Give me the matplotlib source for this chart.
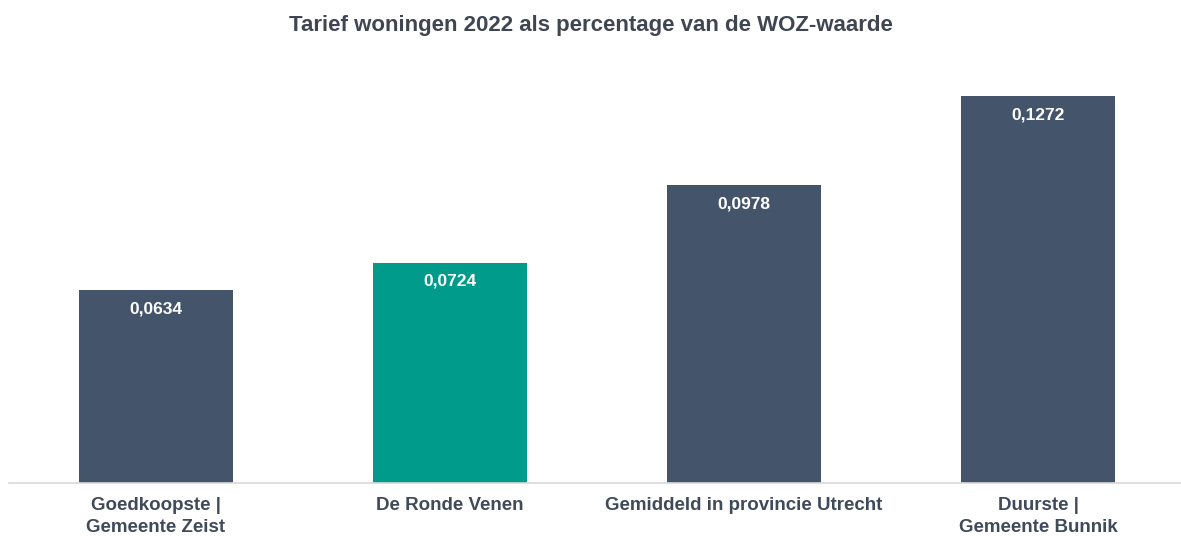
import numpy as np
import matplotlib.pyplot as plt

plt.rcParams['font.family'] = ['Liberation Sans', 'DejaVu Sans']

categories = ['Goedkoopste |\nGemeente Zeist', 'De Ronde Venen',
              'Gemiddeld in provincie Utrecht', 'Duurste |\nGemeente Bunnik']
values = [0.0634, 0.0724, 0.0978, 0.1272]
labels = ['0,0634', '0,0724', '0,0978', '0,1272']
colors = ['#44546A', '#009B8A', '#44546A', '#44546A']

fig = plt.figure(figsize=(11.81, 5.36), dpi=100)
ax = fig.add_axes([9/1181, 53/536, 1172/1181, 430/536])

x = np.arange(len(categories))
bars = ax.bar(x, values, width=0.524, color=colors)

for b, lab in zip(bars, labels):
    ax.text(b.get_x() + b.get_width()/2, b.get_height() - 0.0036, lab,
            ha='center', va='top', color='white', fontsize=12.5, fontweight='bold')

ax.set_xlim(-0.5, -0.5 + 1172/294)
ax.set_ylim(0, 430/3042)
ax.set_xticks(x)
ax.set_xticklabels(categories, fontsize=13.5, fontweight='bold', color='#404A5A',
                   linespacing=1.4)
ax.tick_params(axis='x', length=0, pad=10)
ax.set_yticks([])
for s in ['top', 'right', 'left']:
    ax.spines[s].set_visible(False)
ax.spines['bottom'].set_color('#D9D9D9')
ax.spines['bottom'].set_linewidth(1.2)

fig.text(0.5, 1 - 25/536, 'Tarief woningen 2022 als percentage van de WOZ-waarde',
         ha='center', va='center', fontsize=16, fontweight='bold', color='#404552')

plt.savefig('out.png', dpi=100)
